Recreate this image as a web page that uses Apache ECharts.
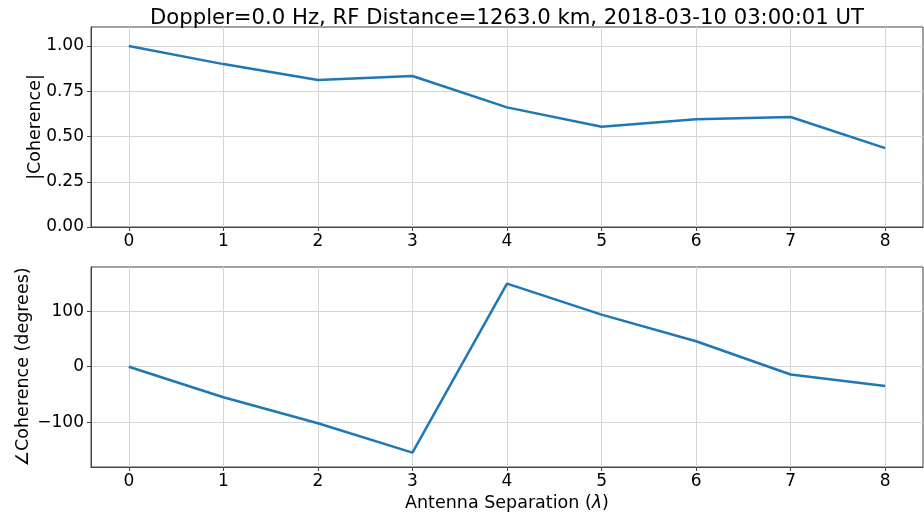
<!DOCTYPE html>
<html>
<head>
<meta charset="utf-8">
<script src="https://cdn.jsdelivr.net/npm/echarts@6/dist/echarts.min.js"></script>
<style>
  html, body { margin: 0; padding: 0; background: #fff; }
  #chart { width: 924px; height: 514px; }
</style>
</head>
<body>
<div id="chart"></div>
<script>
// antenna separation in wavelengths
const separations = [0, 1, 2, 3, 4, 5, 6, 7, 8];
// |Coherence|
const magnitude = [1.0, 0.90, 0.812, 0.834, 0.661, 0.554, 0.595, 0.608, 0.436];
// phase of coherence, degrees
const phase = [0, -55, -102, -155, 150, 94, 46, -14, -35];
// tick values
const magTicks = [0, 0.25, 0.5, 0.75, 1.0];
const phaseTicks = [-100, 0, 100];

const titleText = "Doppler=0.0 Hz, RF Distance=1263.0 km, 2018-03-10 03:00:01 UT";

let chart = echarts.init(document.getElementById("chart"));

const font = "DejaVu Sans";
const lineColor = "#1f77b4";
const spine = "#444";
const gridColor = "#d5d5d5";

function xAxisFor(gridIndex, withName) {
  let ax = {
    type: "value",
    gridIndex: gridIndex,
    min: -0.4,
    max: 8.4,
    axisLine: { show: true, onZero: false, lineStyle: { color: spine, width: 1 } },
    axisTick: { show: true, length: 4, customValues: separations, lineStyle: { color: spine } },
    axisLabel: {
      color: "#000",
      fontFamily: font,
      fontSize: 17,
      margin: 6,
      customValues: separations
    },
    splitLine: { show: true, lineStyle: { color: gridColor, width: 1 } }
  };
  if (withName) {
    ax.name = "Antenna Separation ({i|λ})";
    ax.nameLocation = "middle";
    ax.nameGap = 27;
    ax.nameTextStyle = {
      color: "#000",
      fontFamily: font,
      fontSize: 17.5,
      rich: { i: { fontStyle: "italic", fontFamily: font, fontSize: 17.5, color: "#000" } }
    };
  }
  return ax;
}

let option = {
  backgroundColor: "#fff",
  animation: false,
  title: {
    text: titleText,
    left: 502,
    top: 3,
    textAlign: "center",
    textStyle: { fontFamily: font, fontSize: 21.2, fontWeight: "normal", color: "#000" }
  },
  grid: [
    { left: 91, top: 27, width: 832, height: 200, show: true, borderColor: spine, borderWidth: 1, containLabel: false },
    { left: 91, top: 267, width: 832, height: 200, show: true, borderColor: spine, borderWidth: 1, containLabel: false }
  ],
  xAxis: [xAxisFor(0, false), xAxisFor(1, true)],
  yAxis: [
    {
      type: "value",
      gridIndex: 0,
      min: 0,
      max: 1.105,
      name: "|Coherence|",
      nameLocation: "middle",
      nameGap: 47,
      nameMoveOverlap: false,
      nameTextStyle: { color: "#000", fontFamily: font, fontSize: 17.5 },
      axisLine: { show: true, onZero: false, lineStyle: { color: spine } },
      axisTick: { show: true, length: 4, customValues: magTicks, lineStyle: { color: spine } },
      axisLabel: {
        color: "#000",
        fontFamily: font,
        fontSize: 17,
        margin: 7,
        customValues: magTicks,
        formatter: v => v.toFixed(2)
      },
      splitLine: { show: true, lineStyle: { color: gridColor } }
    },
    {
      type: "value",
      gridIndex: 1,
      min: -181,
      max: 180,
      name: "∠Coherence (degrees)",
      nameLocation: "middle",
      nameGap: 59,
      nameMoveOverlap: false,
      nameTextStyle: { color: "#000", fontFamily: font, fontSize: 17.5 },
      axisLine: { show: true, onZero: false, lineStyle: { color: spine } },
      axisTick: { show: true, length: 4, customValues: phaseTicks, lineStyle: { color: spine } },
      axisLabel: {
        color: "#000",
        fontFamily: font,
        fontSize: 17,
        margin: 7,
        customValues: phaseTicks,
        formatter: v => String(v).replace("-", "\u2212")
      },
      splitLine: { show: true, lineStyle: { color: gridColor } }
    }
  ],
  series: [
    {
      name: "magnitude",
      type: "line",
      xAxisIndex: 0,
      yAxisIndex: 0,
      showSymbol: false,
      lineStyle: { color: lineColor, width: 2.5 },
      data: separations.map((s, i) => [s, magnitude[i]])
    },
    {
      name: "phase",
      type: "line",
      xAxisIndex: 1,
      yAxisIndex: 1,
      showSymbol: false,
      lineStyle: { color: lineColor, width: 2.5 },
      data: separations.map((s, i) => [s, phase[i]])
    }
  ]
};

chart.setOption(option);
</script>
</body>
</html>
